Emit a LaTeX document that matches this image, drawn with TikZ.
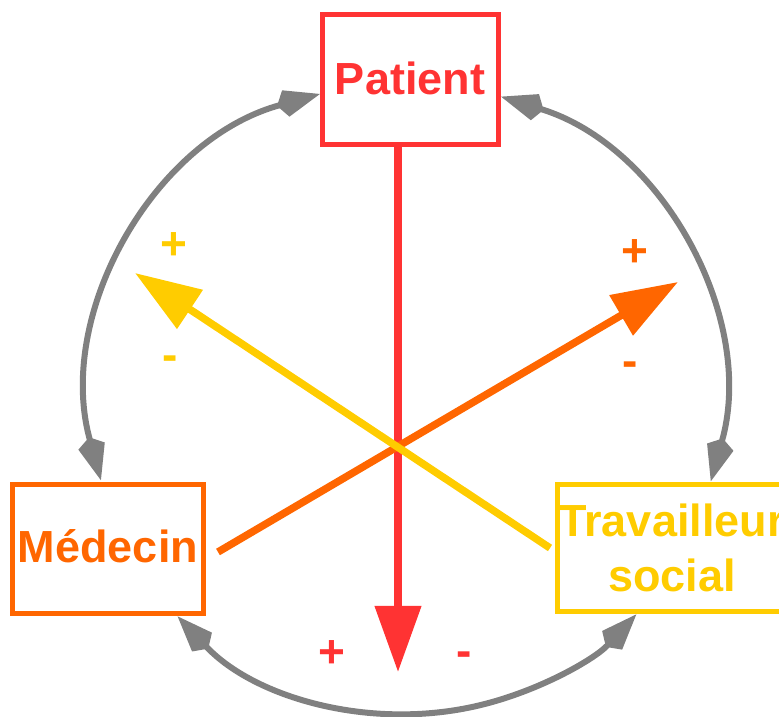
\documentclass[tikz,border=0pt]{standalone}
\usepackage{fontspec}
\setmainfont{Liberation Sans}
\usetikzlibrary{arrows.meta}
\definecolor{cRed}{HTML}{FF3333}
\definecolor{cOrange}{HTML}{FF6600}
\definecolor{cYellow}{HTML}{FFCC00}
\definecolor{cGray}{HTML}{808080}
\begin{document}
\begin{tikzpicture}[x=1pt,y=1pt,
  box/.style={draw, line width=5pt, inner sep=0pt},
  big/.style={font=\fontsize{45}{55}\selectfont\bfseries, inner sep=0pt},
  sign/.style={font=\fontsize{46}{50}\selectfont\bfseries, inner sep=0pt},
  gtip/.tip={Stealth[length=36pt,width=24pt,inset=-10pt]},
  cyclearc/.style={draw=cGray, line width=6pt, gtip-gtip},
  infl/.style={line width=7.5pt, -{Triangle[length=66pt,width=45pt]}}
]
\useasboundingbox (0,0) rectangle (779,717);

% boxes
\node[box, draw=cRed, minimum width=176pt, minimum height=130pt] (P) at (410,637) {};
\node[box, draw=cOrange, minimum width=191pt, minimum height=129pt] (M) at (107.5,167.5) {};
\node[box, draw=cYellow, minimum width=230pt, minimum height=127pt] (T) at (672,168.5) {};

% box texts
\node[big, text=cRed, anchor=base] (Pt) at (410,622) {Patient};
\node[big, text=cOrange, anchor=base] (Mt) at (108,154) {Médecin};
\node[big, text=cYellow, align=center, anchor=base] (Tt) at (672,125) {Travailleur\\social};

% cycle arcs
\coordinate (C) at (406,319);
\coordinate (pl) at ([shift={(105.6:316)}]C);
\coordinate (mt) at ([shift={(195.3:316)}]C);
\coordinate (mb) at ([shift={(223.5:316)}]C);
\coordinate (tb) at ([shift={(317:316)}]C);
\coordinate (tt) at ([shift={(344.5:316)}]C);
\coordinate (pr) at ([shift={(72.7:316)}]C);
\draw[cyclearc] (pl) arc[start angle=105.6, end angle=195.3, radius=316];
\draw[cyclearc] (mb) arc[start angle=223.5, end angle=317, radius=316];
\draw[cyclearc] (tt) arc[start angle=-15.5, end angle=72.7, radius=316];

% influence arrows
\coordinate (ps) at ([xshift=-12pt]P.south);
\coordinate (rt) at (398,45);
\coordinate (os) at (218,165);
\coordinate (ot) at (678,435);
\coordinate (ys) at (550,169);
\coordinate (yt) at (135,444);
\draw[infl, cRed] (ps) -- (rt);
\draw[infl, cOrange] (os) -- (ot);
\draw[infl, cYellow] (ys) -- (yt);

% signs
\node[sign, text=cYellow] (yp) at (174,471) {+};
\node[sign, text=cYellow] (ym) at (170,354) {-};
\node[sign, text=cOrange] (op) at (635,464) {+};
\node[sign, text=cOrange] (om) at (630,348) {-};
\node[sign, text=cRed] (rp) at (332,63) {+};
\node[sign, text=cRed] (rm) at (464,58) {-};
\end{tikzpicture}
\end{document}
